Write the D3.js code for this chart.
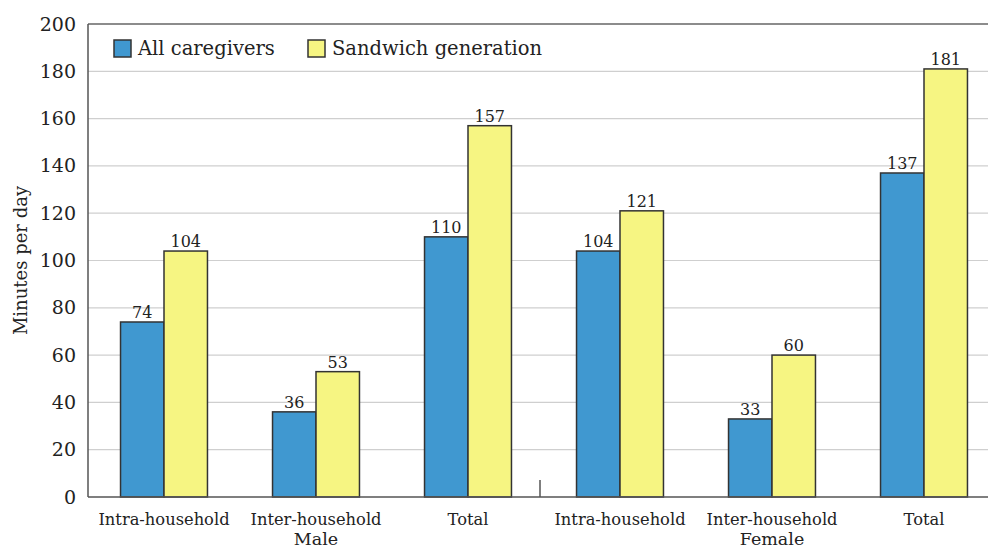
<!DOCTYPE html>
<html>
<head>
<meta charset="utf-8">
<script src="https://cdn.jsdelivr.net/npm/d3@7"></script>
<style>
    body { margin: 0; background: #fff; }
    text { font-family: "DejaVu Serif", "Liberation Serif", serif; fill: #222; }
</style>
</head>
<body>
<svg width="988" height="551"></svg>
<script>
// data
const categories = ["Intra-household", "Inter-household", "Total", "Intra-household", "Inter-household", "Total"];
const groupLabels = ["Male", "Female"];
const allCaregivers = [74, 36, 110, 104, 33, 137];
const sandwichGeneration = [104, 53, 157, 121, 60, 181];
const seriesNames = ["All caregivers", "Sandwich generation"];
const yTicks = [0, 20, 40, 60, 80, 100, 120, 140, 160, 180, 200];

const colors = ["#4098d0", "#f6f582"];

let svg = d3.select("svg"),
    margin = { top: 24, left: 88, bottom: 54 },
    height = 551 - margin.top - margin.bottom;

let x = d3.scaleBand().domain(d3.range(categories.length)).range([margin.left, 1000]);
let y = d3.scaleLinear().domain([0, 200]).range([margin.top + height, margin.top]);

let barW = x.step() * 0.286;

// grid
svg.append("g")
    .selectAll("line")
    .data(yTicks.filter(d => d > 0 && d < 200))
    .join("line")
    .attr("x1", margin.left).attr("x2", 988)
    .attr("y1", d => y(d)).attr("y2", d => y(d))
    .attr("stroke", "#cfcfcf").attr("stroke-width", 1.2);

// y axis
let yAxis = svg.append("g")
    .attr("transform", "translate(" + margin.left + ",0)")
    .call(d3.axisLeft(y).tickValues(yTicks).tickSize(0).tickPadding(12));
yAxis.select(".domain").remove();
yAxis.selectAll("text")
    .style("font-family", "DejaVu Serif, serif")
    .style("font-size", "19px")
    .attr("fill", "#222");

// bars
let series = [allCaregivers, sandwichGeneration];
series.forEach((vals, s) => {
    let g = svg.append("g");
    g.selectAll("rect")
        .data(vals)
        .join("rect")
        .attr("x", (d, i) => x(i) + x.bandwidth() / 2 - barW + s * barW)
        .attr("y", d => y(d))
        .attr("width", barW)
        .attr("height", d => y(0) - y(d))
        .attr("fill", colors[s])
        .attr("stroke", "#333")
        .attr("stroke-width", 1.5);
    g.selectAll("text")
        .data(vals)
        .join("text")
        .attr("x", (d, i) => x(i) + x.bandwidth() / 2 - barW / 2 + s * barW)
        .attr("y", d => y(d) - 4)
        .attr("text-anchor", "middle")
        .style("font-size", "16px")
        .text(d => d);
});

// frame: top line, left axis, bottom axis
svg.append("line")
    .attr("x1", margin.left).attr("x2", 988)
    .attr("y1", y(200)).attr("y2", y(200))
    .attr("stroke", "#666").attr("stroke-width", 1.5);
svg.append("line")
    .attr("x1", margin.left).attr("x2", margin.left)
    .attr("y1", y(200)).attr("y2", y(0))
    .attr("stroke", "#555").attr("stroke-width", 1.5);
svg.append("line")
    .attr("x1", margin.left).attr("x2", 988)
    .attr("y1", y(0)).attr("y2", y(0))
    .attr("stroke", "#555").attr("stroke-width", 1.5);

// separator tick between Male and Female
let sepX = x(3) - 4;
svg.append("line")
    .attr("x1", sepX).attr("x2", sepX)
    .attr("y1", y(0) - 17).attr("y2", y(0))
    .attr("stroke", "#555").attr("stroke-width", 1.5);

// category labels
svg.append("g")
    .selectAll("text")
    .data(categories)
    .join("text")
    .attr("x", (d, i) => x(i) + x.bandwidth() / 2)
    .attr("y", y(0) + 28)
    .attr("text-anchor", "middle")
    .style("font-size", "16.3px")
    .text(d => d);

svg.append("g")
    .selectAll("text")
    .data(groupLabels)
    .join("text")
    .attr("x", (d, i) => x(1 + i * 3) + x.bandwidth() / 2)
    .attr("y", 545)
    .attr("text-anchor", "middle")
    .style("font-size", "17.5px")
    .text(d => d);

// y label
svg.append("text")
    .attr("text-anchor", "middle")
    .attr("transform", "translate(" + 27 + "," + (margin.top + height / 2) + ")rotate(-90)")
    .style("font-size", "18px")
    .text("Minutes per day");

// legend
let legendX = [114, 308];
seriesNames.forEach((name, s) => {
    svg.append("rect")
        .attr("x", legendX[s]).attr("y", 40)
        .attr("width", 17).attr("height", 17)
        .attr("fill", colors[s])
        .attr("stroke", "#333").attr("stroke-width", 1.5);
    svg.append("text")
        .attr("x", legendX[s] + 24).attr("y", 55)
        .style("font-size", "19.5px")
        .text(name);
});
</script>
</body>
</html>
